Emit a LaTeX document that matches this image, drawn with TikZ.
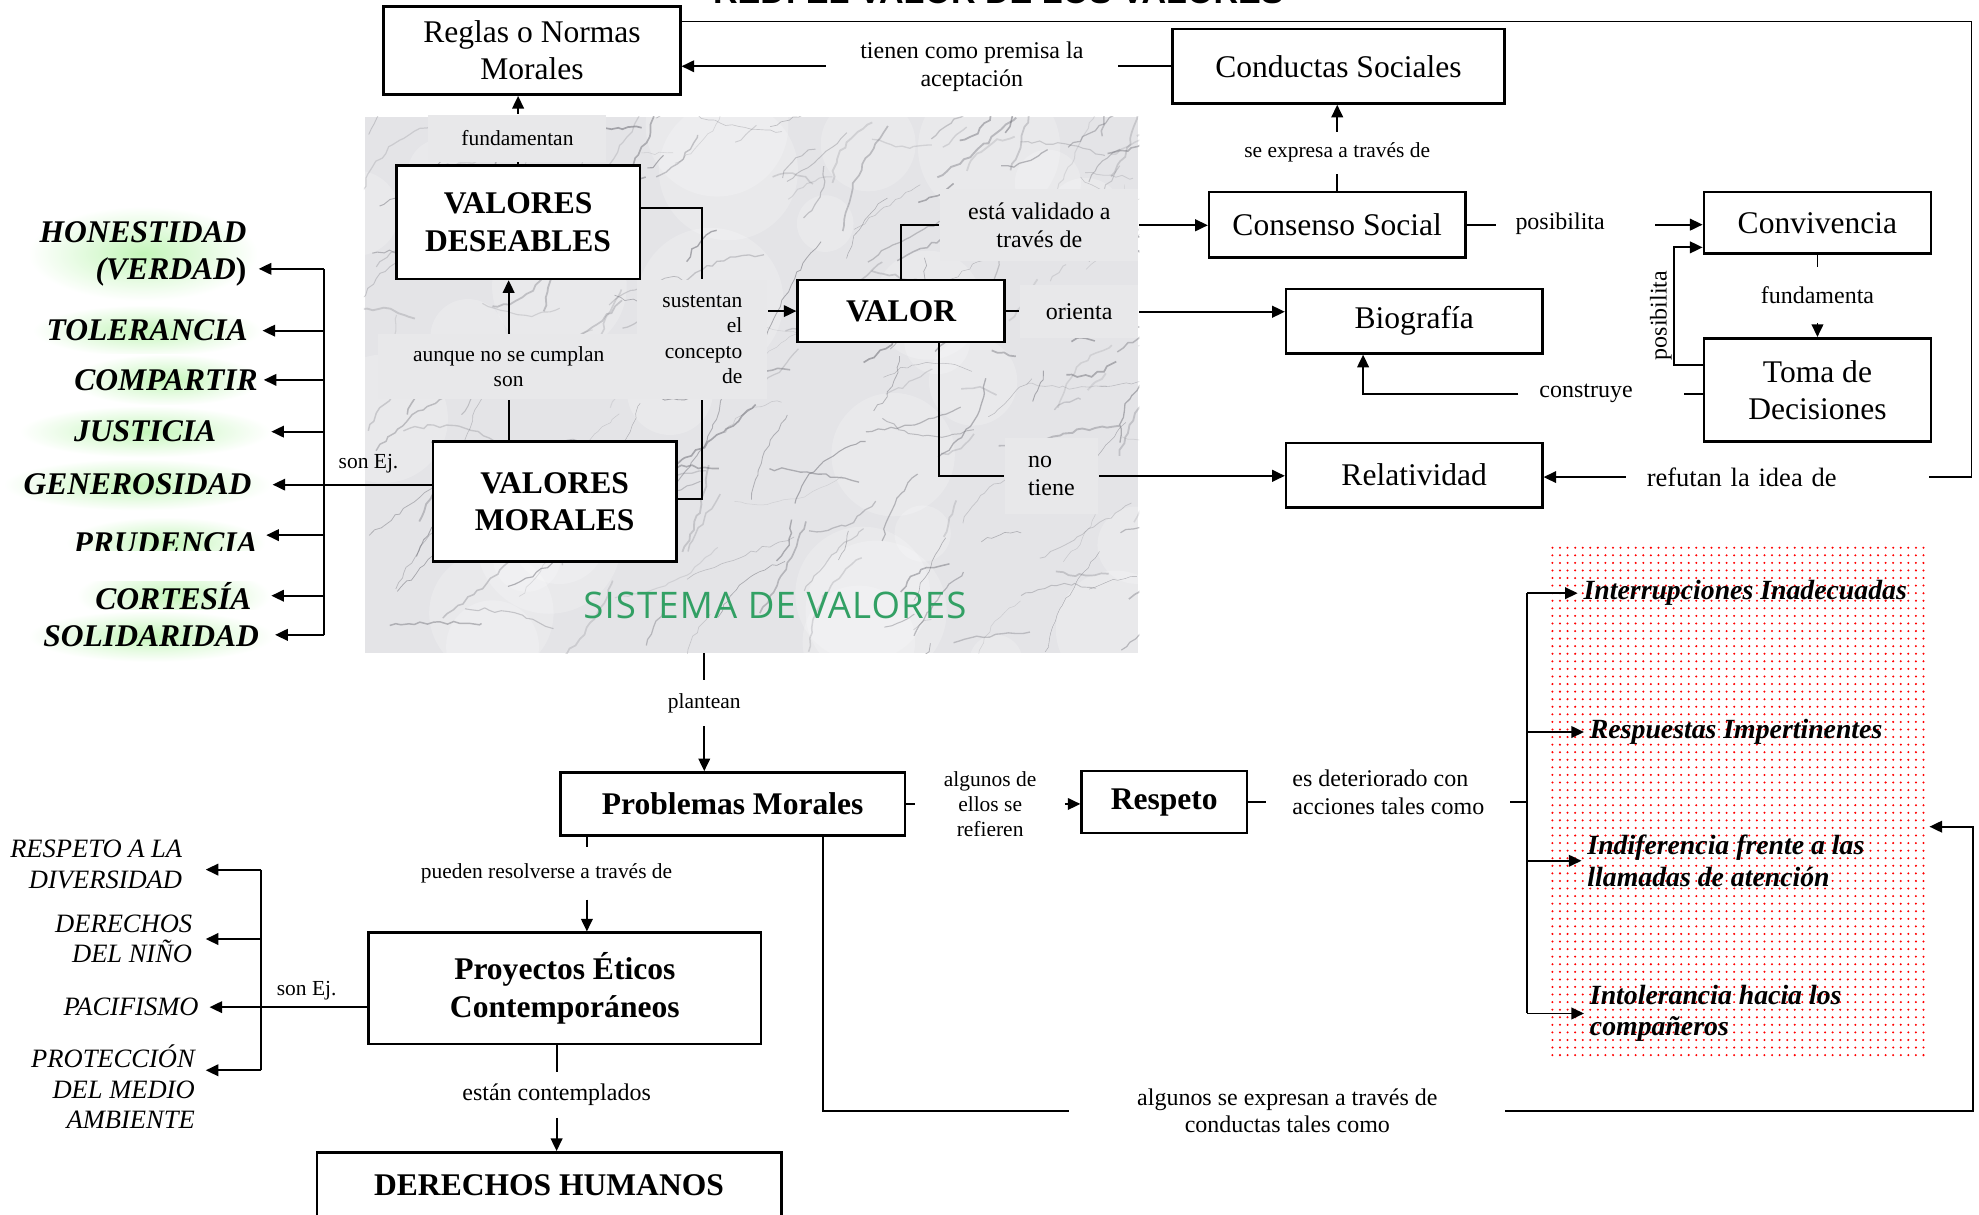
\documentclass[tikz,border=0pt]{standalone}
\usepackage{fontspec}
\setmainfont{Liberation Serif}
\newfontfamily\sisfont[LetterSpace=3]{Open Sans}
\newfontfamily\headfont{Liberation Sans}
\usetikzlibrary{arrows.meta,patterns.meta,decorations.pathmorphing}
\definecolor{marble}{RGB}{228,228,231}
\definecolor{patch}{RGB}{232,232,234}
\definecolor{vein}{RGB}{110,110,118}
\definecolor{sisgreen}{RGB}{50,160,100}
\definecolor{glow}{RGB}{196,246,186}
\tikzset{
  box/.style={draw,line width=1pt,fill=white,align=center,inner sep=0pt,
    font=\fontsize{12.5}{14.5}\selectfont},
  bbox/.style={box,font=\fontsize{12.5}{15}\selectfont\bfseries},
  lab/.style={font=\fontsize{8.5}{10}\selectfont,align=center,inner sep=0pt},
  mlab/.style={lab,font=\fontsize{9.5}{11}\selectfont},
  patch/.style={fill=patch},
  arr/.style={-{Triangle[length=5pt,width=4.6pt]}},
  val/.style={font=\fontsize{12.5}{14.5}\selectfont\bfseries\itshape,align=right,
    anchor=east,inner ysep=6pt,inner xsep=#1,
    preaction={shade,inner color=glow,outer color=white}},
  val/.default=4pt,
  ej/.style={font=\fontsize{10.5}{12}\selectfont\itshape,align=right,anchor=east,
    inner ysep=1pt,inner xsep=#1},
  ej/.default=4pt,
  bad/.style={font=\fontsize{11}{12.5}\selectfont\bfseries\itshape,align=left,
    anchor=west,inner xsep=2pt},
  vein/.style={draw=vein,decorate,decoration={random steps,segment length=2.5pt,amplitude=0.7pt}}
}

\begin{document}
\begin{tikzpicture}[x=0.5pt,y=-0.5pt,line width=0.75pt]
\useasboundingbox (0,0) rectangle (1568,962);
\clip (0,0) rectangle (1568,962);

\node[anchor=base,font=\headfont\bfseries\fontsize{13.5}{16}\selectfont] (head) at (791,3) {RED: EL VALOR DE LOS VALORES};

\node[fill=marble,minimum width=306.5pt,minimum height=212pt,inner sep=0pt] (marble) at (595.5,305) {};
\begin{scope}
\clip (marble.south west) rectangle (marble.north east);
\pgfmathsetseed{7}
\foreach \k in {1,...,30}{
  \pgfmathsetmacro\xa{280+630*rnd}
  \pgfmathsetmacro\ya{85+440*rnd}
  \pgfmathsetmacro\rr{20+40*rnd}
  \fill[white,opacity=0.2] (\xa,\ya) circle (\rr);
}
\foreach \k in {1,...,230}{
  \pgfmathsetmacro\xa{280+630*rnd}
  \pgfmathsetmacro\ya{85+440*rnd}
  \pgfmathsetmacro\ang{-75+90*rnd}
  \pgfmathsetmacro\len{15+80*rnd}
  \pgfmathsetmacro\bend{60*rnd-30}
  \pgfmathsetmacro\lw{0.15+0.6*rnd}
  \pgfmathsetmacro\op{0.15+0.4*rnd}
  \draw[vein,line width=\lw pt,opacity=\op] (\xa,\ya) to[bend left=\bend] ++(\ang:\len);
}
\end{scope}

\node[box,minimum width=117.5pt,minimum height=35pt] (reglas) at (421.5,40) {Reglas o Normas\\Morales};
\node[box,minimum width=131.5pt,minimum height=29.5pt] (conductas) at (1060.5,52.5) {Conductas Sociales};
\node[box,minimum width=101.5pt,minimum height=26pt] (consenso) at (1059.5,178) {Consenso Social};
\node[box,minimum width=90pt,minimum height=24.5pt] (conviv) at (1440,176.5) {Convivencia};
\node[box,minimum width=101.5pt,minimum height=25.5pt] (biogr) at (1120.5,254.5) {Biografía};
\node[box,minimum width=90pt,minimum height=41pt] (toma) at (1440,309) {Toma de\\Decisiones};
\node[box,minimum width=101.5pt,minimum height=25.5pt] (relat) at (1120.5,376.5) {Relatividad};
\node[bbox,minimum width=96.5pt,minimum height=45pt] (deseables) at (410.5,176) {VALORES\\DESEABLES};
\node[bbox,minimum width=82pt,minimum height=24.5pt] (valor) at (714,246.5) {VALOR};
\node[bbox,minimum width=96.5pt,minimum height=47.5pt] (morales) at (439.5,397.5) {VALORES\\MORALES};
\node[bbox,minimum width=136.5pt,minimum height=25pt] (prob) at (580.5,637) {Problemas Morales};
\node[bbox,minimum width=65.5pt,minimum height=24.5pt] (respeto) at (922.5,635.5) {Respeto};
\node[bbox,minimum width=155.5pt,minimum height=44pt] (proy) at (447.5,783) {Proyectos Éticos\\Contemporáneos};
\node[bbox,minimum width=184pt,minimum height=26pt] (dh) at (435,939) {DERECHOS HUMANOS};

\node[font=\sisfont\fontsize{14.5}{16}\selectfont,text=sisgreen] (sis) at (614,480) {SISTEMA DE VALORES};

\node[lab,patch,minimum width=70.5pt,minimum height=18.5pt] (fund) at (410,109.5) {fundamentan};
\node[lab,patch,minimum width=103.5pt,minimum height=25.5pt] (aunque) at (403,290.5) {aunque no se cumplan\\son};
\node[lab,patch,align=right,minimum width=51.5pt,minimum height=47pt] (sust) at (556.5,269) {sustentan\\el\\concepto\\de};
\node[mlab,patch,minimum width=78.5pt,minimum height=28.5pt] (valid) at (823.5,178.5) {está validado a\\través de};
\node[mlab,patch,minimum width=47pt,minimum height=21pt] (orienta) at (855,247) {orienta};
\node[mlab,patch,align=left,minimum width=37pt,minimum height=30pt] (notiene) at (833,377) {no\\tiene};

\node[mlab,minimum width=115pt,minimum height=20pt] (premisa) at (770,53) {tienen como premisa la\\aceptación};
\node[lab,minimum height=16pt] (expresa) at (1059.5,121) {se expresa a través de};
\node[mlab,anchor=west,inner xsep=7.5pt,text width=47.5pt,align=left] (posib1) at (1185,177) {posibilita};
\node[mlab,minimum height=21.5pt] (fundam) at (1440,233.5) {fundamenta};
\node[mlab,rotate=90] (posib2) at (1316,250) {posibilita};
\node[mlab,anchor=west,inner xsep=8pt,text width=49pt,align=left] (constr) at (1203,312) {construye};
\node[font=\fontsize{10.5}{12}\selectfont,anchor=west,inner xsep=8pt,text width=103.5pt,align=left] (refutan) at (1288,378) {refutan la idea de};
\node[lab] (sonej1) at (292,367) {son Ej.};
\node[lab,minimum height=17.5pt] (plantean) at (558,557) {plantean};
\node[lab,minimum height=20pt] (resolv) at (433,692) {pueden resolverse a través de};
\node[mlab,minimum height=17.5pt] (contempl) at (441,867.5) {están contemplados};
\node[lab,minimum width=58.5pt] (refieren) at (784.5,637) {algunos de\\ellos se\\refieren};
\node[mlab,align=left,minimum width=96pt] (deterior) at (1100,628) {es deteriorado con\\acciones tales como};
\node[mlab,minimum width=172pt] (algexp) at (1020,880) {algunos se expresan a través de\\conductas tales como};
\node[lab] (sonej2) at (243,785) {son Ej.};

\node[pattern={Dots[distance=3pt,radius=0.45pt]},pattern color=red,minimum width=150pt,minimum height=205pt,inner sep=0pt] (redarea) at (1378,635) {};
\node[bad] (interr) at (1250,470) {Interrupciones Inadecuadas};
\node[bad] (respu) at (1255,580) {Respuestas Impertinentes};
\node[bad] (indif) at (1253,682) {Indiferencia frente a las\\llamadas de atención};
\node[bad] (intol) at (1255,803) {Intolerancia hacia los\\compañeros};

\node[val=4.5pt] (honest) at (205,201) {HONESTIDAD\\(VERDAD{\upshape)}};
\node[val=5.5pt] (toler) at (208,262) {TOLERANCIA};
\node[val=2pt] (compart) at (209,301) {COMPARTIR};
\node[val=21.5pt] (justic) at (215,342) {JUSTICIA};
\node[val=8pt] (gener) at (216,384) {GENEROSIDAD};
\begin{scope}
\clip (0,390) rectangle (250,436);
\node[val=3pt] (prud) at (211,430) {PRUDENCIA};
\end{scope}
\begin{scope}
\clip (0,461) rectangle (250,490);
\node[val=7.5pt] (cortes) at (215,472) {CORTESÍA};
\end{scope}
\node[val=6pt] (solid) at (218,504) {SOLIDARIDAD};

\node[ej=9pt] (resp) at (163,685) {RESPETO A LA\\DIVERSIDAD};
\node[ej=5pt] (derech) at (163,744) {DERECHOS\\DEL NIÑO};
\node[ej=4pt] (pacif) at (166,798) {PACIFISMO};
\node[ej=4pt] (protec) at (163,861) {PROTECCIÓN\\DEL MEDIO\\AMBIENTE};

\coordinate (t1a) at (257,213);
\coordinate (t1b) at (257,503);
\coordinate (t2a) at (207,689);
\coordinate (t2b) at (207,848);
\coordinate (t3a) at (1210,470);
\coordinate (t3b) at (1210,803);
\coordinate (topr) at (1562,17);
\coordinate (botr) at (1563,655);
\coordinate (pr) at ([xshift=-57.75pt]prob.south);
\coordinate (pm) at ([xshift=35.75pt]prob.south);

\draw (deseables.north) -- (deseables.north |- fund.south);
\draw[arr] (deseables.north |- fund.north) -- (deseables.north |- reglas.south);
\draw (aunque |- morales.north) -- (aunque.south);
\draw[arr] (aunque.north) -- (aunque |- deseables.south);
\draw ([yshift=5.5pt]deseables.east) -| (sust.north);
\draw ([yshift=1pt]morales.east) -| (sust.south);
\draw[arr] (sust.east |- valor.west) -- (valor.west);
\draw (valor.north) |- (valid.west);
\draw[arr] (valid.east) -- (valid.east -| consenso.west);
\draw (valor.east) -- (valor.east -| orienta.west);
\draw[arr] (orienta.east) -- (orienta.east -| biogr.west);
\draw ([xshift=15pt]valor.south) |- (notiene.west);
\draw[arr] (notiene.east) -- (notiene.east -| relat.west);

\draw (conductas.west) -- (conductas.west -| premisa.east);
\draw[arr] (premisa.west |- conductas.west) -- (conductas.west -| reglas.east);
\draw (consenso.north) -- (consenso.north |- expresa.south);
\draw[arr] (consenso.north |- expresa.north) -- (consenso.north |- conductas.south);
\draw (consenso.east) -- (consenso.east -| posib1.west);
\draw[arr] (posib1.east |- consenso.east) -- (consenso.east -| conviv.west);
\draw (conviv.south) -- (conviv.south |- fundam.north);
\draw[arr] (fundam.south) -- (fundam.south |- toma.north);
\draw[arr] ([yshift=10pt]toma.west) -- ++(-11.5pt,0) |- ([yshift=-9.75pt]conviv.west);
\draw (toma.west |- constr) -- (constr.east);
\draw[arr] (constr.west) -| ([xshift=-20.25pt]biogr.south);
\draw (reglas.east |- topr) -- (topr) |- (refutan.east);
\draw[arr] (refutan.west) -- (refutan.west -| relat.east);

\draw (t1a) -- (t1b);
\draw (morales.west |- gener) -- (t1a |- gener);
\draw[arr] (t1a) -- (t1a -| honest.east);
\draw[arr] (t1a |- toler) -- (toler);
\draw[arr] (t1a |- compart) -- (compart);
\draw[arr] (t1a |- justic) -- (justic);
\draw[arr] (t1a |- gener) -- (gener);
\draw[arr] ([yshift=3pt]prud.east -| t1a) -- ([yshift=3pt]prud.east);
\draw[arr] (t1a |- cortes) -- (cortes);
\draw[arr] (t1b) -- (t1b -| solid.east);

\draw (marble.south -| plantean) -- (plantean.north);
\draw[arr] (plantean.south) -- (plantean |- prob.north);
\draw (pr) -- (pr |- resolv.north);
\draw[arr] (pr |- resolv.south) -- (pr |- proy.north);
\draw (proy.south -| contempl) -- (contempl.north);
\draw[arr] (contempl.south) -- (contempl |- dh.north);
\draw (prob.east) -- (refieren.west);
\draw[arr] (refieren.east) -- (refieren.east -| respeto.west);
\draw (respeto.east) -- (respeto.east -| deterior.west);
\draw (deterior.east |- respeto.east) -- (respeto.east -| t3a);
\draw (t3a) -- (t3b);
\draw[arr] (t3a) -- (interr.west);
\draw[arr] (t3a |- respu.west) -- (respu.west);
\draw[arr] (t3a |- indif.west) -- (indif.west);
\draw[arr] (t3b) -- (t3b -| intol.west);
\draw (pm) |- (algexp.west);
\draw[arr] (algexp.east) -| (botr) -- (botr -| redarea.east);

\draw (t2a) -- (t2b);
\draw (proy.west |- pacif) -- (t2a |- pacif);
\draw[arr] (t2a) -- (t2a -| resp.east);
\draw[arr] (t2a |- derech) -- (derech);
\draw[arr] (t2a |- pacif) -- (pacif);
\draw[arr] (t2b) -- (t2b -| protec.east);
\end{tikzpicture}
\end{document}
